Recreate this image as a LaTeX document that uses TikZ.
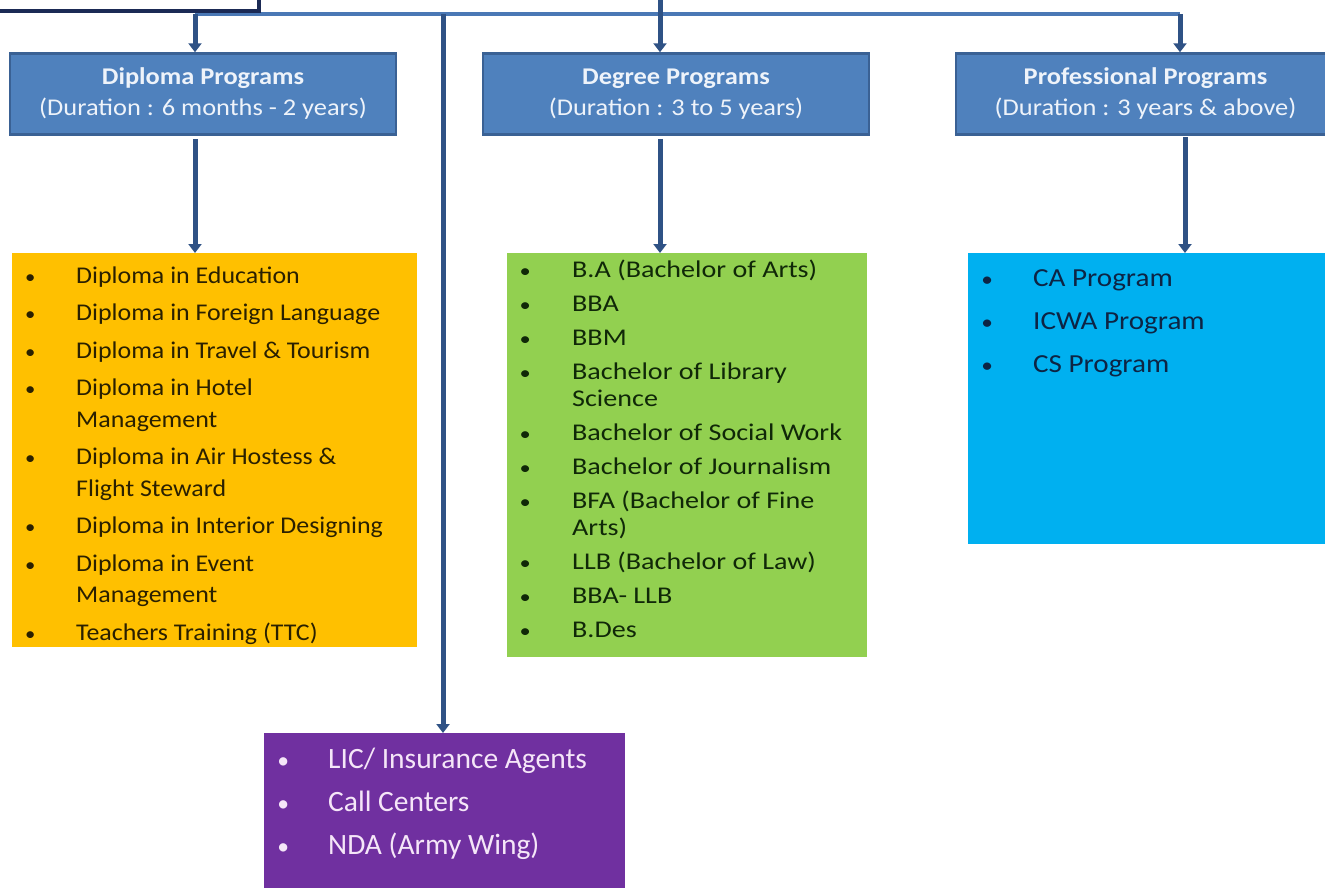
\documentclass[tikz,border=0pt]{standalone}
\usepackage{fontspec}
\usepackage{graphicx}
\setmainfont{Carlito}
\newfontfamily\hdfont[FakeStretch=1.1]{Carlito}
\newfontfamily\dipfont[FakeStretch=1.08]{Carlito}
\newfontfamily\degfont[FakeStretch=1.17]{Carlito}
\newfontfamily\profont[FakeStretch=1.12]{Carlito}
\newfontfamily\purfont{Carlito}
\usetikzlibrary{arrows.meta}
\definecolor{hdfill}{HTML}{4F81BD}
\definecolor{hdborder}{HTML}{3A6194}
\definecolor{hdtext}{HTML}{EEF3FA}
\definecolor{linecol}{HTML}{2F5285}
\definecolor{buscol}{HTML}{4A78B5}
\definecolor{navy}{HTML}{1B2A55}
\definecolor{dipfill}{HTML}{FFC000}
\definecolor{diptext}{HTML}{2A2000}
\definecolor{degfill}{HTML}{92D050}
\definecolor{degtext}{HTML}{102808}
\definecolor{profill}{HTML}{00B0F0}
\definecolor{protext}{HTML}{0D2444}
\definecolor{purfill}{HTML}{7030A0}
\definecolor{purtext}{HTML}{F5E6F8}
\newcommand\bul{\makebox[0pt]{\scalebox{0.8}{\textbullet}}}
\begin{document}
\begin{tikzpicture}[x=1pt,y=-1pt,
  hdr/.style={draw=hdborder, line width=2.5pt, fill=hdfill, text=hdtext, align=center,
    inner sep=0pt, minimum height=81pt, font=\hdfont\fontsize{24}{31}\selectfont},
  listbox/.style={anchor=north west, inner sep=0pt, draw=none},
  listtxt/.style={anchor=base west, inner sep=0pt},
  arr/.style={draw=linecol, line width=5pt, -{Triangle[width=13pt,length=9pt]}},
  bus/.style={draw=buscol, line width=4pt}]
\useasboundingbox (0,0) rectangle (1325,887);

% header boxes
\node[hdr, minimum width=386pt] (dip) at (203,94) {{\bfseries Diploma Programs}\\(Duration : 6 months - 2 years)};
\node[hdr, minimum width=386pt] (deg) at (676,94) {{\bfseries Degree Programs}\\(Duration : 3 to 5 years)};
\node[hdr, minimum width=379pt] (pro) at (1145.5,94) {{\bfseries Professional Programs}\\(Duration : 3 years \& above)};

% list boxes
\node[listbox, fill=dipfill, minimum width=405pt, minimum height=394pt] (diplist) at (12,253) {};
\node[listbox, fill=degfill, minimum width=360pt, minimum height=404pt] (deglist) at (507,253) {};
\node[listbox, fill=profill, minimum width=370pt, minimum height=291pt] (prolist) at (968,253) {};
\node[listbox, fill=purfill, minimum width=361pt, minimum height=170pt] (purlist) at (264,733) {};

% list texts
\node[listtxt, text=diptext, font=\dipfont\fontsize{24}{31.5}\selectfont] (diptxt) at (30,283) {%
\begin{tabular}[t]{@{}p{46pt}@{}l@{}}
\bul & Diploma in Education\\[6pt]
\bul & Diploma in Foreign Language\\[6pt]
\bul & Diploma in Travel \& Tourism\\[6pt]
\bul & Diploma in Hotel\\
     & Management\\[6pt]
\bul & Diploma in Air Hostess \&\\
     & Flight Steward\\[6pt]
\bul & Diploma in Interior Designing\\[6pt]
\bul & Diploma in Event\\
     & Management\\[6pt]
\bul & Teachers Training (TTC)
\end{tabular}};

\node[listtxt, text=degtext, font=\degfont\fontsize{24}{27}\selectfont] (degtxt) at (525,277) {%
\begin{tabular}[t]{@{}p{47pt}@{}l@{}}
\bul & B.A (Bachelor of Arts)\\[7pt]
\bul & BBA\\[7pt]
\bul & BBM\\[7pt]
\bul & Bachelor of Library\\
     & Science\\[7pt]
\bul & Bachelor of Social Work\\[7pt]
\bul & Bachelor of Journalism\\[7pt]
\bul & BFA (Bachelor of Fine\\
     & Arts)\\[7pt]
\bul & LLB (Bachelor of Law)\\[7pt]
\bul & BBA- LLB\\[7pt]
\bul & B.Des
\end{tabular}};

\node[listtxt, text=protext, font=\profont\fontsize{26}{43}\selectfont] (protxt) at (987,286) {%
\begin{tabular}[t]{@{}p{46pt}@{}l@{}}
\bul & CA Program\\
\bul & ICWA Program\\
\bul & CS Program
\end{tabular}};

\node[listtxt, text=purtext, font=\purfont\fontsize{29.5}{43}\selectfont] (purtxt) at (283,768) {%
\begin{tabular}[t]{@{}p{45pt}@{}l@{}}
\bul & LIC/ Insurance Agents\\
\bul & Call Centers\\
\bul & NDA (Army Wing)
\end{tabular}};

% connector coordinates
\coordinate (top) at (660,0);
\coordinate (busL) at (195,14);
\coordinate (busM) at (443,14);
\coordinate (busR) at (1180,14);
\coordinate (proDown) at (1185,137);

% connectors
\draw[bus] (busL) -- (busR);
\draw[arr] (top) -- (top |- deg.north);
\draw[arr] (busL) -- (busL |- dip.north);
\draw[arr] (busR) -- (busR |- pro.north);
\draw[arr] (busM) -- (busM |- purlist.north);
\draw[arr] ([yshift=-3pt]busL |- dip.south) -- (busL |- diplist.north);
\draw[arr] ([yshift=-3pt]top |- deg.south) -- (top |- deglist.north);
\draw[arr] (proDown) -- (proDown |- prolist.north);

% cropped box at top left
\draw[draw=navy, line width=4pt, fill=white] (-10,-20) rectangle (259,11);
\end{tikzpicture}
\end{document}
